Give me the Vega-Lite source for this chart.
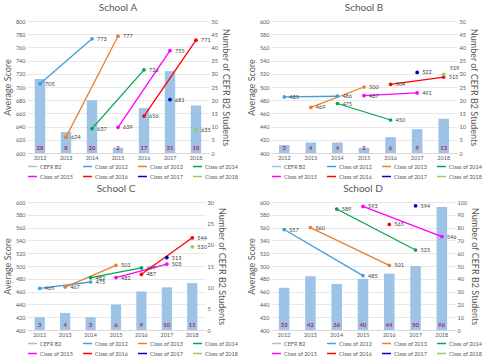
{
  "$schema": "https://vega.github.io/schema/vega-lite/v6.json",
  "padding": {"left": 3, "right": 0, "top": 3, "bottom": 0},
  "datasets": {
    "bars": [
      {"school": "A", "year": "2012", "series": "CEFR B2", "students": 28},
      {"school": "A", "year": "2013", "series": "CEFR B2", "students": 8},
      {"school": "A", "year": "2014", "series": "CEFR B2", "students": 20},
      {"school": "A", "year": "2015", "series": "CEFR B2", "students": 2},
      {"school": "A", "year": "2016", "series": "CEFR B2", "students": 17},
      {"school": "A", "year": "2017", "series": "CEFR B2", "students": 31},
      {"school": "A", "year": "2018", "series": "CEFR B2", "students": 18},
      {"school": "B", "year": "2012", "series": "CEFR B2", "students": 3},
      {"school": "B", "year": "2013", "series": "CEFR B2", "students": 4},
      {"school": "B", "year": "2014", "series": "CEFR B2", "students": 4},
      {"school": "B", "year": "2015", "series": "CEFR B2", "students": 2},
      {"school": "B", "year": "2016", "series": "CEFR B2", "students": 6},
      {"school": "B", "year": "2017", "series": "CEFR B2", "students": 9},
      {"school": "B", "year": "2018", "series": "CEFR B2", "students": 13},
      {"school": "C", "year": "2012", "series": "CEFR B2", "students": 3},
      {"school": "C", "year": "2013", "series": "CEFR B2", "students": 4},
      {"school": "C", "year": "2014", "series": "CEFR B2", "students": 3},
      {"school": "C", "year": "2015", "series": "CEFR B2", "students": 6},
      {"school": "C", "year": "2016", "series": "CEFR B2", "students": 9},
      {"school": "C", "year": "2017", "series": "CEFR B2", "students": 10},
      {"school": "C", "year": "2018", "series": "CEFR B2", "students": 11},
      {"school": "D", "year": "2012", "series": "CEFR B2", "students": 33},
      {"school": "D", "year": "2013", "series": "CEFR B2", "students": 42},
      {"school": "D", "year": "2014", "series": "CEFR B2", "students": 36},
      {"school": "D", "year": "2015", "series": "CEFR B2", "students": 40},
      {"school": "D", "year": "2016", "series": "CEFR B2", "students": 44},
      {"school": "D", "year": "2017", "series": "CEFR B2", "students": 50},
      {"school": "D", "year": "2018", "series": "CEFR B2", "students": 96}
    ],
    "scores": [
      {"school": "A", "year": "2012", "series": "Class of 2012", "score": 705},
      {"school": "A", "year": "2014", "series": "Class of 2012", "score": 773},
      {"school": "A", "year": "2013", "series": "Class of 2013", "score": 624},
      {"school": "A", "year": "2015", "series": "Class of 2013", "score": 777},
      {"school": "A", "year": "2014", "series": "Class of 2014", "score": 637},
      {"school": "A", "year": "2016", "series": "Class of 2014", "score": 726},
      {"school": "A", "year": "2015", "series": "Class of 2015", "score": 639},
      {"school": "A", "year": "2017", "series": "Class of 2015", "score": 755},
      {"school": "A", "year": "2016", "series": "Class of 2016", "score": 656},
      {"school": "A", "year": "2018", "series": "Class of 2016", "score": 771},
      {"school": "A", "year": "2017", "series": "Class of 2017", "score": 681},
      {"school": "A", "year": "2018", "series": "Class of 2018", "score": 635},
      {"school": "B", "year": "2012", "series": "Class of 2012", "score": 485},
      {"school": "B", "year": "2014", "series": "Class of 2012", "score": 486},
      {"school": "B", "year": "2013", "series": "Class of 2013", "score": 469},
      {"school": "B", "year": "2015", "series": "Class of 2013", "score": 500},
      {"school": "B", "year": "2014", "series": "Class of 2014", "score": 475},
      {"school": "B", "year": "2016", "series": "Class of 2014", "score": 450},
      {"school": "B", "year": "2015", "series": "Class of 2015", "score": 487},
      {"school": "B", "year": "2017", "series": "Class of 2015", "score": 491},
      {"school": "B", "year": "2016", "series": "Class of 2016", "score": 504},
      {"school": "B", "year": "2018", "series": "Class of 2016", "score": 515},
      {"school": "B", "year": "2017", "series": "Class of 2017", "score": 522},
      {"school": "B", "year": "2018", "series": "Class of 2018", "score": 519},
      {"school": "C", "year": "2012", "series": "Class of 2012", "score": 465},
      {"school": "C", "year": "2014", "series": "Class of 2012", "score": 475},
      {"school": "C", "year": "2013", "series": "Class of 2013", "score": 467},
      {"school": "C", "year": "2015", "series": "Class of 2013", "score": 501},
      {"school": "C", "year": "2014", "series": "Class of 2014", "score": 482},
      {"school": "C", "year": "2016", "series": "Class of 2014", "score": 497},
      {"school": "C", "year": "2015", "series": "Class of 2015", "score": 482},
      {"school": "C", "year": "2017", "series": "Class of 2015", "score": 503},
      {"school": "C", "year": "2016", "series": "Class of 2016", "score": 487},
      {"school": "C", "year": "2018", "series": "Class of 2016", "score": 544},
      {"school": "C", "year": "2017", "series": "Class of 2017", "score": 513},
      {"school": "C", "year": "2018", "series": "Class of 2018", "score": 530},
      {"school": "D", "year": "2012", "series": "Class of 2012", "score": 557},
      {"school": "D", "year": "2015", "series": "Class of 2012", "score": 485},
      {"school": "D", "year": "2013", "series": "Class of 2013", "score": 560},
      {"school": "D", "year": "2016", "series": "Class of 2013", "score": 501},
      {"school": "D", "year": "2014", "series": "Class of 2014", "score": 589},
      {"school": "D", "year": "2017", "series": "Class of 2014", "score": 525},
      {"school": "D", "year": "2015", "series": "Class of 2015", "score": 593},
      {"school": "D", "year": "2018", "series": "Class of 2015", "score": 546},
      {"school": "D", "year": "2016", "series": "Class of 2016", "score": 565},
      {"school": "D", "year": "2017", "series": "Class of 2017", "score": 594}
    ]
  },
  "vconcat": [
    {
      "hconcat": [
        {
          "width": 182, "height": 132,
          "title": {"text": "School A"},
          "layer": [
            {"data": {"name": "bars"}, "transform": [{"filter": "datum.school === 'A'"}],
             "layer": [
              {"mark": {"type": "bar"}, "encoding": {
                "x": {"field": "year", "type": "ordinal", "title": null, "scale": {"paddingInner": 0.6, "paddingOuter": 0.3}},
                "y": {"field": "students", "type": "quantitative", "scale": {"domain": [0, 50]}, "axis": {"orient": "right", "title": "Number of CEFR B2 Students", "tickCount": 10, "grid": false}},
                "color": {"field": "series", "type": "nominal", "title": null, "scale": {"domain": ["CEFR B2", "Class of 2012", "Class of 2013", "Class of 2014", "Class of 2015", "Class of 2016", "Class of 2017", "Class of 2018"], "range": ["#9DC3E6", "#3FA0DA", "#ED7D31", "#00A651", "#FF00FF", "#FF0000", "#0000C0", "#92D050"]}}
              }},
              {"mark": {"type": "text", "dy": -5, "fontWeight": "bold", "fontSize": 6, "color": "#C0185E"}, "encoding": {
                "x": {"field": "year", "type": "ordinal"},
                "y": {"datum": 0, "type": "quantitative"},
                "text": {"field": "students", "type": "quantitative"}
              }}
            ]},
            {"data": {"name": "scores"}, "transform": [{"filter": "datum.school === 'A'"}],
             "layer": [
              {"mark": {"type": "line", "strokeWidth": 1.3, "point": {"filled": true, "size": 14}}, "encoding": {
                "x": {"field": "year", "type": "ordinal"},
                "y": {"field": "score", "type": "quantitative", "scale": {"domain": [600, 800]}, "axis": {"title": "Average Score", "tickCount": 10, "grid": true}},
                "color": {"field": "series", "type": "nominal", "title": null}
              }},
              {"mark": {"type": "text", "align": "left", "dx": 5, "fontSize": 5.5, "color": "#404040"}, "encoding": {
                "x": {"field": "year", "type": "ordinal"},
                "y": {"field": "score", "type": "quantitative"},
                "text": {"field": "score", "type": "quantitative"}
              }}
            ]}
          ],
          "resolve": {"scale": {"y": "independent"}}
        },
        {
          "width": 186, "height": 132,
          "title": {"text": "School B"},
          "layer": [
            {"data": {"name": "bars"}, "transform": [{"filter": "datum.school === 'B'"}],
             "layer": [
              {"mark": {"type": "bar"}, "encoding": {
                "x": {"field": "year", "type": "ordinal", "title": null, "scale": {"paddingInner": 0.6, "paddingOuter": 0.3}},
                "y": {"field": "students", "type": "quantitative", "scale": {"domain": [0, 50]}, "axis": {"orient": "right", "title": "Number of CEFR B2 Students", "tickCount": 10, "grid": false}},
                "color": {"field": "series", "type": "nominal", "title": null, "scale": {"domain": ["CEFR B2", "Class of 2012", "Class of 2013", "Class of 2014", "Class of 2015", "Class of 2016", "Class of 2017", "Class of 2018"], "range": ["#9DC3E6", "#3FA0DA", "#ED7D31", "#00A651", "#FF00FF", "#FF0000", "#0000C0", "#92D050"]}}
              }},
              {"mark": {"type": "text", "dy": -5, "fontWeight": "bold", "fontSize": 6, "color": "#C0185E"}, "encoding": {
                "x": {"field": "year", "type": "ordinal"},
                "y": {"datum": 0, "type": "quantitative"},
                "text": {"field": "students", "type": "quantitative"}
              }}
            ]},
            {"data": {"name": "scores"}, "transform": [{"filter": "datum.school === 'B'"}],
             "layer": [
              {"mark": {"type": "line", "strokeWidth": 1.3, "point": {"filled": true, "size": 14}}, "encoding": {
                "x": {"field": "year", "type": "ordinal"},
                "y": {"field": "score", "type": "quantitative", "scale": {"domain": [400, 600]}, "axis": {"title": "Average Score", "tickCount": 10, "grid": true}},
                "color": {"field": "series", "type": "nominal", "title": null}
              }},
              {"transform": [{"filter": "datum.series !== 'Class of 2018'"}],
               "mark": {"type": "text", "align": "left", "dx": 5, "fontSize": 5.5, "color": "#404040"}, "encoding": {
                "x": {"field": "year", "type": "ordinal"},
                "y": {"field": "score", "type": "quantitative"},
                "text": {"field": "score", "type": "quantitative"}
              }},
              {"transform": [{"filter": "datum.series === 'Class of 2018'"}],
               "mark": {"type": "text", "align": "left", "dx": 6, "dy": -6, "fontSize": 5.5, "color": "#404040"}, "encoding": {
                "x": {"field": "year", "type": "ordinal"},
                "y": {"field": "score", "type": "quantitative"},
                "text": {"field": "score", "type": "quantitative"}
              }}
            ]}
          ],
          "resolve": {"scale": {"y": "independent"}}
        }
      ],
      "spacing": 8,
      "resolve": {"scale": {"color": "independent"}, "legend": {"color": "independent"}}
    },
    {
      "hconcat": [
        {
          "width": 178, "height": 128,
          "title": {"text": "School C"},
          "layer": [
            {"data": {"name": "bars"}, "transform": [{"filter": "datum.school === 'C'"}],
             "layer": [
              {"mark": {"type": "bar"}, "encoding": {
                "x": {"field": "year", "type": "ordinal", "title": null, "scale": {"paddingInner": 0.6, "paddingOuter": 0.3}},
                "y": {"field": "students", "type": "quantitative", "scale": {"domain": [0, 30]}, "axis": {"orient": "right", "title": "Number of CEFR B2 Students", "tickCount": 6, "grid": false}},
                "color": {"field": "series", "type": "nominal", "title": null, "scale": {"domain": ["CEFR B2", "Class of 2012", "Class of 2013", "Class of 2014", "Class of 2015", "Class of 2016", "Class of 2017", "Class of 2018"], "range": ["#9DC3E6", "#3FA0DA", "#ED7D31", "#00A651", "#FF00FF", "#FF0000", "#0000C0", "#92D050"]}}
              }},
              {"mark": {"type": "text", "dy": -5, "fontWeight": "bold", "fontSize": 6, "color": "#C0185E"}, "encoding": {
                "x": {"field": "year", "type": "ordinal"},
                "y": {"datum": 0, "type": "quantitative"},
                "text": {"field": "students", "type": "quantitative"}
              }}
            ]},
            {"data": {"name": "scores"}, "transform": [{"filter": "datum.school === 'C'"}],
             "layer": [
              {"mark": {"type": "line", "strokeWidth": 1.3, "point": {"filled": true, "size": 14}}, "encoding": {
                "x": {"field": "year", "type": "ordinal"},
                "y": {"field": "score", "type": "quantitative", "scale": {"domain": [400, 600]}, "axis": {"title": "Average Score", "tickCount": 10, "grid": true}},
                "color": {"field": "series", "type": "nominal", "title": null}
              }},
              {"mark": {"type": "text", "align": "left", "dx": 5, "fontSize": 5.5, "color": "#404040"}, "encoding": {
                "x": {"field": "year", "type": "ordinal"},
                "y": {"field": "score", "type": "quantitative"},
                "text": {"field": "score", "type": "quantitative"}
              }}
            ]}
          ],
          "resolve": {"scale": {"y": "independent"}}
        },
        {
          "width": 184, "height": 128,
          "title": {"text": "School D"},
          "layer": [
            {"data": {"name": "bars"}, "transform": [{"filter": "datum.school === 'D'"}],
             "layer": [
              {"mark": {"type": "bar"}, "encoding": {
                "x": {"field": "year", "type": "ordinal", "title": null, "scale": {"paddingInner": 0.6, "paddingOuter": 0.3}},
                "y": {"field": "students", "type": "quantitative", "scale": {"domain": [0, 100]}, "axis": {"orient": "right", "title": "Number of CEFR B2 Students", "tickCount": 10, "grid": false}},
                "color": {"field": "series", "type": "nominal", "title": null, "scale": {"domain": ["CEFR B2", "Class of 2012", "Class of 2013", "Class of 2014", "Class of 2015", "Class of 2016", "Class of 2017", "Class of 2018"], "range": ["#9DC3E6", "#3FA0DA", "#ED7D31", "#00A651", "#FF00FF", "#FF0000", "#0000C0", "#92D050"]}}
              }},
              {"mark": {"type": "text", "dy": -5, "fontWeight": "bold", "fontSize": 6, "color": "#C0185E"}, "encoding": {
                "x": {"field": "year", "type": "ordinal"},
                "y": {"datum": 0, "type": "quantitative"},
                "text": {"field": "students", "type": "quantitative"}
              }}
            ]},
            {"data": {"name": "scores"}, "transform": [{"filter": "datum.school === 'D'"}],
             "layer": [
              {"mark": {"type": "line", "strokeWidth": 1.3, "point": {"filled": true, "size": 14}}, "encoding": {
                "x": {"field": "year", "type": "ordinal"},
                "y": {"field": "score", "type": "quantitative", "scale": {"domain": [400, 600]}, "axis": {"title": "Average Score", "tickCount": 10, "grid": true}},
                "color": {"field": "series", "type": "nominal", "title": null}
              }},
              {"mark": {"type": "text", "align": "left", "dx": 5, "fontSize": 5.5, "color": "#404040"}, "encoding": {
                "x": {"field": "year", "type": "ordinal"},
                "y": {"field": "score", "type": "quantitative"},
                "text": {"field": "score", "type": "quantitative"}
              }}
            ]}
          ],
          "resolve": {"scale": {"y": "independent"}}
        }
      ],
      "spacing": 8,
      "resolve": {"scale": {"color": "independent"}, "legend": {"color": "independent"}}
    }
  ],
  "spacing": 4,
  "resolve": {"scale": {"color": "independent"}, "legend": {"color": "independent"}},
  "config": {
    "font": "Lato",
    "view": {"stroke": null},
    "axis": {"labelFontSize": 5.5, "labelColor": "#595959", "titleColor": "#595959", "titleFontSize": 9, "titleFontWeight": "normal", "ticks": false, "domain": false, "gridColor": "#D9D9D9", "gridWidth": 0.6, "labelPadding": 2, "titlePadding": 3},
    "axisX": {"domain": true, "domainColor": "#D9D9D9", "labelAngle": 0, "labelPadding": 2},
    "title": {"fontSize": 10, "color": "#595959", "fontWeight": "normal", "offset": 6},
    "legend": {"orient": "bottom", "direction": "horizontal", "columns": 4, "symbolType": "stroke", "symbolStrokeWidth": 1.5, "symbolSize": 80, "labelOffset": 2, "labelFontSize": 5.5, "labelColor": "#595959", "rowPadding": 1, "columnPadding": 6, "offset": 0, "labelLimit": 60}
  }
}
